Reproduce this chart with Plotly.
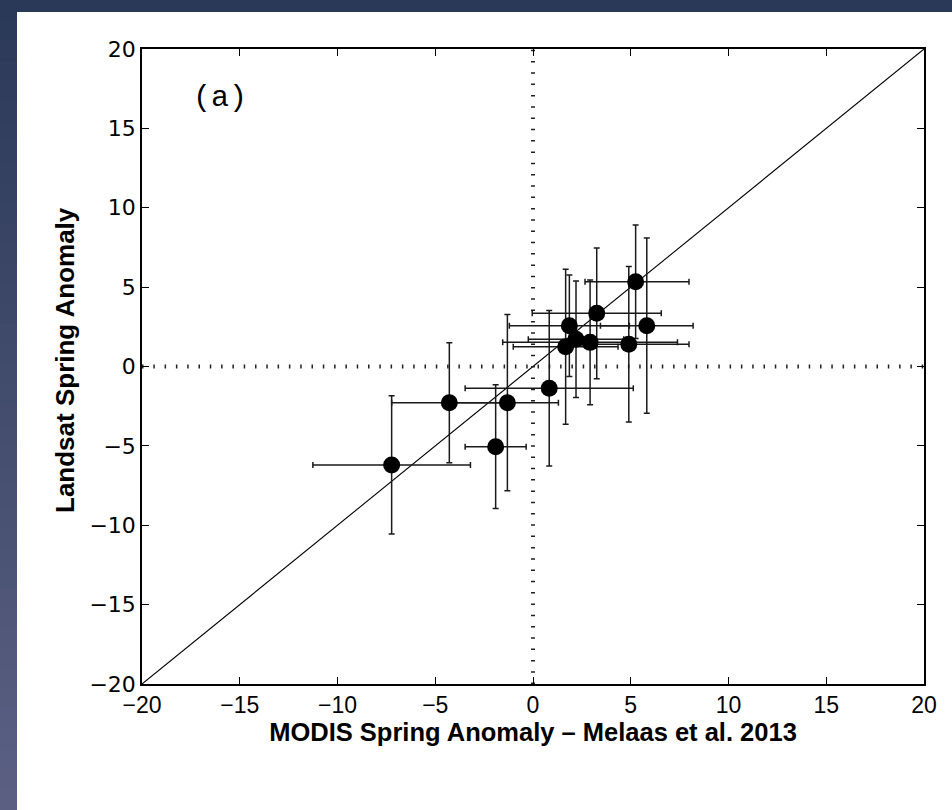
import plotly.graph_objects as go

# ---- data ----
modis_x = [-7.23, -4.28, -1.31, -1.91, 0.83, 1.67, 1.86, 2.20, 2.92, 3.26, 4.90, 5.25, 5.82]
landsat_y = [-6.20, -2.28, -2.28, -5.05, -1.37, 1.25, 2.57, 1.71, 1.52, 3.35, 1.40, 5.34, 2.57]
x_err_plus = [4.03, 2.95, 2.61, 1.56, 4.30, 2.68, 3.07, 2.44, 4.47, 3.30, 3.08, 2.73, 2.37]
x_err_minus = [4.03, 2.95, 2.96, 1.56, 4.30, 2.68, 3.07, 2.44, 4.47, 3.30, 3.08, 2.59, 2.37]
y_err = [4.35, 3.78, 5.55, 3.90, 4.90, 4.88, 3.20, 3.67, 3.93, 4.12, 4.90, 3.57, 5.52]

axis_min, axis_max = -20, 20
tick_vals = [-20, -15, -10, -5, 0, 5, 10, 15, 20]
tick_text = ["\u221220", "\u221215", "\u221210", "\u22125", "0", "5", "10", "15", "20"]

# ---- figure geometry ----
W, H = 952, 810
ML, MR, MT, MB = 142, 28, 49, 126
PW, PH = W - ML - MR, H - MT - MB

def px_to_paper_x(px):
    return (px - ML) / PW

def px_to_paper_y(py):
    return (H - MB - py) / PH

fig = go.Figure()

# identity line
fig.add_trace(go.Scatter(x=[axis_min, axis_max], y=[axis_min, axis_max], mode="lines",
                         line=dict(color="black", width=1.1), hoverinfo="skip", showlegend=False))
# dotted zero lines
fig.add_trace(go.Scatter(x=[0, 0], y=[axis_min, axis_max], mode="lines",
                         line=dict(color="#222", width=4, dash="1.5px,9.8px"),
                         hoverinfo="skip", showlegend=False))
fig.add_trace(go.Scatter(x=[axis_min, axis_max], y=[0, 0], mode="lines",
                         line=dict(color="#222", width=4, dash="1.5px,9.8px"),
                         hoverinfo="skip", showlegend=False))

# points with error bars
fig.add_trace(go.Scatter(
    x=modis_x, y=landsat_y, mode="markers",
    marker=dict(color="black", size=17, line=dict(width=0)),
    error_x=dict(type="data", array=x_err_plus, arrayminus=x_err_minus, symmetric=False,
                 color="#1a1a1a", thickness=1.5, width=3),
    error_y=dict(type="data", array=y_err, color="#1a1a1a", thickness=1.5, width=3),
    showlegend=False,
))

# background: dark slide strips around white panel (stepped gradient on the left)
shapes = []
n_steps = 40
top_col = (43, 57, 88)
bot_col = (92, 97, 132)
for i in range(n_steps):
    y0 = i * H / n_steps
    y1 = (i + 1) * H / n_steps + 2  # slight overlap avoids seams
    t = (i + 0.5) / n_steps
    c = tuple(int(top_col[k] + (bot_col[k] - top_col[k]) * t) for k in range(3))
    shapes.append(dict(type="rect", xref="paper", yref="paper",
                       x0=px_to_paper_x(0), x1=px_to_paper_x(17),
                       y0=px_to_paper_y(min(y1, H)), y1=px_to_paper_y(y0),
                       fillcolor="rgb(%d,%d,%d)" % c, line=dict(width=0), layer="below"))
shapes.append(dict(type="rect", xref="paper", yref="paper",
                   x0=px_to_paper_x(0), x1=px_to_paper_x(W),
                   y0=px_to_paper_y(12), y1=px_to_paper_y(0),
                   fillcolor="rgb(43,57,88)", line=dict(width=0), layer="below"))

annotations = [
    dict(x=-16.0, y=16.9, xref="x", yref="y", text="(a)", showarrow=False,
         font=dict(family="Liberation Mono, Courier New, monospace", size=30, color="black")),
    dict(x=px_to_paper_x(65), y=px_to_paper_y(360), xref="paper", yref="paper",
         text="<b>Landsat Spring Anomaly</b>", textangle=-90, showarrow=False,
         xanchor="center", yanchor="middle",
         font=dict(family="Liberation Sans, Arial", size=26, color="black")),
]

fig.update_layout(
    width=W, height=H,
    margin=dict(l=ML, r=MR, t=MT, b=MB),
    paper_bgcolor="white", plot_bgcolor="white",
    shapes=shapes,
    annotations=annotations,
    xaxis=dict(range=[axis_min, axis_max], tickvals=tick_vals, ticktext=tick_text,
               ticks="inside", ticklen=7, tickwidth=1.2, tickcolor="black",
               showline=True, linecolor="black", linewidth=1.5, mirror="ticks",
               showgrid=False, zeroline=False,
               tickfont=dict(family="Liberation Sans, Arial", size=23, color="black"),
               title=dict(text="<b>MODIS Spring Anomaly \u2013 Melaas et al. 2013</b>",
                          font=dict(family="Liberation Sans, Arial", size=25.5, color="black"),
                          standoff=6)),
    yaxis=dict(range=[axis_min, axis_max], tickvals=tick_vals, ticktext=tick_text,
               ticks="inside", ticklen=7, tickwidth=1.2, tickcolor="black",
               showline=True, linecolor="black", linewidth=1.5, mirror="ticks",
               showgrid=False, zeroline=False,
               tickfont=dict(family="DejaVu Sans, Verdana, sans-serif", size=22, color="black")),
)

fig.write_html("out.html")
